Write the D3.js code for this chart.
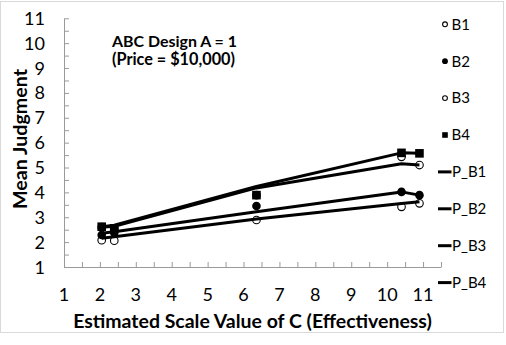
<!DOCTYPE html>
<html>
<head>
<meta charset="utf-8">
<script src="https://cdn.jsdelivr.net/npm/d3@7"></script>
<style>
  html, body { margin: 0; padding: 0; background: #fff; }
  svg { display: block; font-family: Lato, "Open Sans", sans-serif; }
</style>
</head>
<body>
<svg id="chart" width="506" height="345"></svg>
<script>
// Estimated scale values of C (x positions shared by every series)
const cValues = [2.05, 2.4, 6.36, 10.4, 10.9];

// Observed mean judgments
const B1 = [2.08, 2.06, 2.89, 3.42, 3.56];
const B2 = [2.29, 2.38, 3.45, 4.02, 3.89];
const B3 = [2.60, 2.55, 3.89, 5.43, 5.10];
const B4 = [2.62, 2.55, 3.89, 5.59, 5.57];

// Model predictions
const P_B1 = [2.16, 2.22, 2.93, 3.55, 3.62];
const P_B2 = [2.36, 2.42, 3.22, 4.02, 3.89];
const P_B3 = [2.60, 2.64, 4.18, 5.15, 5.10];
const P_B4 = [2.62, 2.68, 4.24, 5.59, 5.57];

const xTickValues = [1, 2, 3, 4, 5, 6, 7, 8, 9, 10, 11];
const yTickValues = [1, 2, 3, 4, 5, 6, 7, 8, 9, 10, 11];

const pointSeries = [
  { name: "B1", values: B1, shape: "openCircle" },
  { name: "B2", values: B2, shape: "filledCircle" },
  { name: "B3", values: B3, shape: "openCircle" },
  { name: "B4", values: B4, shape: "square" }
];
const lineSeries = [
  { name: "P_B1", values: P_B1 },
  { name: "P_B2", values: P_B2 },
  { name: "P_B3", values: P_B3 },
  { name: "P_B4", values: P_B4 }
];

const svg = d3.select("#chart");
const axisColor = "#9a9a9a";

// outer frame
svg.append("rect")
  .attr("x", 0.5).attr("y", 1.5)
  .attr("width", 503).attr("height", 331)
  .attr("fill", "none").attr("stroke", "#d9d9d9");

const x = d3.scaleLinear().domain([1, 11.5]).range([64, 441]);
const y = d3.scaleLinear().domain([1, 11]).range([267, 18.3]);

// y axis: line, inside ticks every 0.5, labels at integers
const yAxis = svg.append("g").attr("transform", `translate(${x(1)},0)`)
  .call(d3.axisRight(y).tickValues(d3.range(1, 11.01, 0.5)).tickSize(5).tickSizeOuter(0).tickFormat(""));
yAxis.selectAll("line").attr("stroke", axisColor);
yAxis.select(".domain").attr("stroke", axisColor);

const xAxis = svg.append("g").attr("transform", `translate(0,${y(1)})`)
  .call(d3.axisTop(x).tickValues(d3.range(1.5, 11.51, 0.5)).tickSize(5).tickSizeOuter(0).tickFormat(""));
xAxis.selectAll("line").attr("stroke", axisColor);
xAxis.select(".domain").attr("stroke", axisColor);

// tick labels
svg.append("g").selectAll("text").data(yTickValues).join("text")
  .attr("x", 45).attr("y", d => y(d) + 6.5)
  .attr("text-anchor", "end").attr("font-size", 18).attr("fill", "#000")
  .text(d => d);
svg.append("g").selectAll("text").data(xTickValues).join("text")
  .attr("x", d => x(d)).attr("y", 300.5)
  .attr("text-anchor", "middle").attr("font-size", 18).attr("fill", "#000")
  .text(d => d);

// fit a text element to a given width by adjusting its font size
function fitWidth(sel, width) {
  const fs = parseFloat(sel.attr("font-size"));
  const w = sel.node().getComputedTextLength();
  sel.attr("font-size", (fs * width / w).toFixed(2));
}

// axis titles
const xt = svg.append("text")
  .attr("x", 252.5).attr("y", 327.5).attr("text-anchor", "middle")
  .attr("font-size", 19).attr("font-weight", "bold")
  .text("Estimated Scale Value of C (Effectiveness)");
fitWidth(xt, 359);

const yt = svg.append("text")
  .attr("transform", "translate(27,139) rotate(-90)").attr("text-anchor", "middle")
  .attr("font-size", 19).attr("font-weight", "bold")
  .text("Mean Judgment");
fitWidth(yt, 140);

// annotation
const a1 = svg.append("text").attr("x", 112).attr("y", 47)
  .attr("font-size", 15).attr("font-weight", "bold").text("ABC Design A = 1");
fitWidth(a1, 125);
const a2 = svg.append("text").attr("x", 112).attr("y", 64.5)
  .attr("font-size", 15).attr("font-weight", "bold").text("(Price = $10,000)");
fitWidth(a2, 123);

// marker drawing
function drawMarker(g, shape, cx, cy, size) {
  if (shape === "square") {
    g.append("rect").attr("x", cx - size).attr("y", cy - size)
      .attr("width", size * 2).attr("height", size * 2).attr("fill", "#000");
  } else {
    g.append("circle").attr("cx", cx).attr("cy", cy).attr("r", shape === "openCircle" ? size - 0.5 : size)
      .attr("fill", shape === "openCircle" ? "#fff" : "#000")
      .attr("stroke", "#000").attr("stroke-width", shape === "openCircle" ? 1.1 : 0);
  }
}

// observed points
pointSeries.forEach(s => {
  const g = svg.append("g");
  s.values.forEach((v, i) => drawMarker(g, s.shape, x(cValues[i]), y(v), 4.3));
});

// prediction lines
const line = d3.line().x((d, i) => x(cValues[i])).y(d => y(d));
lineSeries.forEach(s => {
  svg.append("path").datum(s.values).attr("d", line)
    .attr("fill", "none").attr("stroke", "#000").attr("stroke-width", 3)
    .attr("stroke-linejoin", "round");
});

// legend
const legendItems = pointSeries.concat(lineSeries);
const leg = svg.append("g");
legendItems.forEach((s, i) => {
  const cy = 24.3 + i * 36.9;
  const g = leg.append("g");
  if (s.shape) {
    drawMarker(g, s.shape, 445, cy, s.shape === "square" ? 2.8 : 2.9);
  } else {
    g.append("line").attr("x1", 438).attr("x2", 451.5).attr("y1", cy).attr("y2", cy)
      .attr("stroke", "#000").attr("stroke-width", 3);
  }
  g.append("text").attr("x", s.shape ? 451.5 : 452).attr("y", cy + 5.3)
    .attr("font-size", 15).attr("fill", "#000").text(s.name);
});
</script>
</body>
</html>
